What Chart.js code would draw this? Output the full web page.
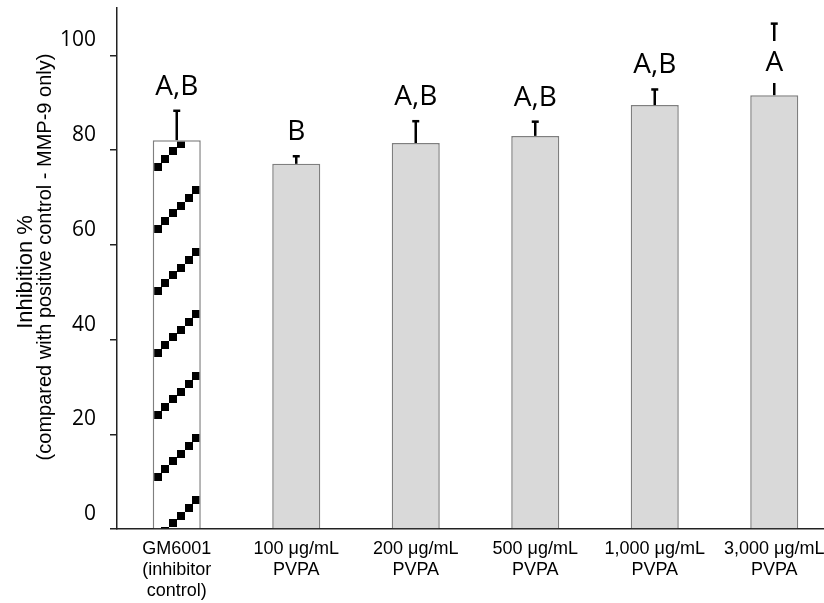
<!DOCTYPE html>
<html>
<head>
<meta charset="utf-8">
<script src="https://cdn.jsdelivr.net/npm/chart.js@4/dist/chart.umd.min.js"></script>
<style>
  html, body { margin: 0; padding: 0; background: #fff; overflow: hidden; }
  #wrap { width: 824px; height: 603px; overflow: hidden; }
</style>
</head>
<body>
<div id="wrap"><canvas id="inhibitionChart" width="834" height="603"></canvas></div>
<script>
// data
const categories = [
  ['GM6001', '(inhibitor', 'control)'],
  ['100 μg/mL', 'PVPA'],
  ['200 μg/mL', 'PVPA'],
  ['500 μg/mL', 'PVPA'],
  ['1,000 μg/mL', 'PVPA'],
  ['3,000 μg/mL', 'PVPA']
]
const inhibition = [82.1, 77.1, 81.5, 83.0, 89.5, 91.6]
const errors = [6.2, 1.6, 4.6, 3.0, 3.3, 15.1]
const groups = ['A,B', 'B', 'A,B', 'A,B', 'A,B', 'A']
const yTicks = [0, 20, 40, 60, 80, 100]

// hatched fill for the inhibitor control bar: diagonal rows of small squares
const makePattern = () => {
  const size = 62
  const tile = document.createElement('canvas')
  tile.width = size
  tile.height = size
  const c = tile.getContext('2d')
  c.fillStyle = '#fff'
  c.fillRect(0, 0, size, size)
  c.fillStyle = '#000'
  const step = size / 8
  for (let i = 0; i < 8; i++) {
    c.fillRect(Math.round(i * step), Math.round(size - (i + 1) * step), 8, 8)
  }
  const ctx = document.createElement('canvas').getContext('2d')
  const pattern = ctx.createPattern(tile, 'repeat')
  pattern.setTransform(new DOMMatrix().translate(14, 0))
  return pattern
}

const errorBars = {
  id: 'errorBars',
  afterDatasetsDraw(chart) {
    const { ctx, scales: { y } } = chart
    const bars = chart.getDatasetMeta(0).data
    ctx.save()
    ctx.strokeStyle = '#000'
    bars.forEach((bar, i) => {
      const top = y.getPixelForValue(inhibition[i] + errors[i])
      ctx.lineWidth = 2.5
      ctx.beginPath()
      ctx.moveTo(bar.x, bar.y)
      ctx.lineTo(bar.x, top)
      ctx.stroke()
      ctx.beginPath()
      ctx.moveTo(bar.x - 3.5, top)
      ctx.lineTo(bar.x + 3.5, top)
      ctx.stroke()
    })
    ctx.restore()
  }
}

const groupLetters = {
  id: 'groupLetters',
  afterDatasetsDraw(chart) {
    const { ctx, chartArea, scales: { y } } = chart
    const bars = chart.getDatasetMeta(0).data
    ctx.save()
    ctx.font = '28px "Open Sans"'
    ctx.textAlign = 'center'
    ctx.textBaseline = 'middle'
    bars.forEach((bar, i) => {
      const top = y.getPixelForValue(inhibition[i] + errors[i])
      const cy = Math.max(top - 25, chartArea.top + 54)
      const w = ctx.measureText(groups[i]).width
      ctx.fillStyle = '#fff'
      ctx.fillRect(bar.x - w / 2 - 3, cy - 21, w + 6, 42)
      ctx.fillStyle = '#000'
      ctx.fillText(groups[i], bar.x, cy + 1)
    })
    ctx.restore()
  }
}

const yTitle = {
  id: 'yTitle',
  afterDraw(chart) {
    const { ctx } = chart
    ctx.save()
    ctx.fillStyle = '#000'
    ctx.textAlign = 'center'
    ctx.textBaseline = 'middle'
    ctx.translate(26, 272)
    ctx.rotate(-Math.PI / 2)
    ctx.font = '22px "Liberation Sans"'
    ctx.fillText('Inhibition %', 0, 0)
    ctx.restore()
    ctx.save()
    ctx.fillStyle = '#000'
    ctx.textAlign = 'center'
    ctx.textBaseline = 'middle'
    ctx.translate(45, 257)
    ctx.rotate(-Math.PI / 2)
    ctx.font = '20px "Liberation Sans"'
    ctx.fillText('(compared with positive control - MMP-9 only)', 0, 0)
    ctx.restore()
  }
}

const ctx = document.getElementById('inhibitionChart').getContext('2d')

new Chart(ctx, {
  type: 'bar',
  data: {
    labels: categories,
    datasets: [
      {
        data: inhibition,
        backgroundColor: [makePattern(), '#d9d9d9', '#d9d9d9', '#d9d9d9', '#d9d9d9', '#d9d9d9'],
        borderColor: '#7f7f7f',
        borderWidth: 1.5,
        categoryPercentage: 1,
        barPercentage: 0.402
      }
    ]
  },
  options: {
    responsive: false,
    animation: false,
    layout: { padding: { top: 8, left: 0, right: 0, bottom: 0 } },
    plugins: {
      legend: { display: false },
      tooltip: { enabled: false }
    },
    scales: {
      x: {
        grid: { display: false, drawTicks: false },
        border: { display: true, color: '#222', width: 1.5 },
        ticks: {
          color: '#000',
          padding: 10,
          maxRotation: 0,
          autoSkip: false,
          font: { family: 'Liberation Sans', size: 18, lineHeight: '21px' }
        },
        afterFit: (s) => {
          s.height = 74
          s.paddingLeft = 0
          s.paddingRight = 0
        }
      },
      y: {
        min: 0,
        max: 110,
        grid: { drawOnChartArea: false, drawTicks: true, tickLength: 7, color: '#222', lineWidth: 1.5 },
        border: { display: true, color: '#222', width: 1.5 },
        ticks: {
          stepSize: 20,
          color: '#000',
          padding: 14,
          labelOffset: -15,
          font: { family: 'Open Sans', size: 21 }
        },
        afterBuildTicks: (axis) => {
          axis.ticks = yTicks.map(v => ({ value: v }))
        },
        afterFit: (s) => {
          s.width = 117
          s.paddingTop = 0
          s.paddingBottom = 0
        }
      }
    }
  },
  plugins: [errorBars, groupLetters, yTitle]
})
</script>
</body>
</html>
